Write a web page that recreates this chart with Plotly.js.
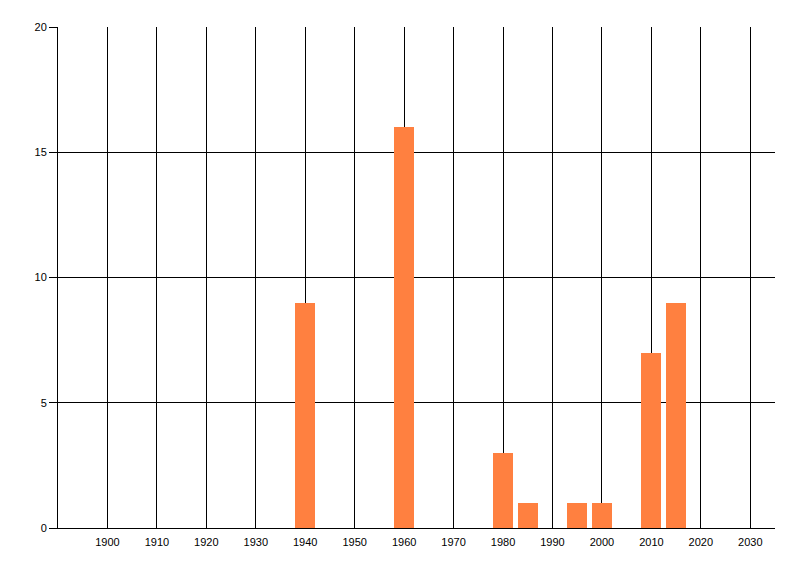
<!DOCTYPE html>
<html>
<head>
<meta charset="utf-8">
<script src="https://cdn.plot.ly/plotly-3.0.1.min.js"></script>
<style>html,body{margin:0;padding:0;background:#fff;}#chart{width:800px;height:576px;}</style>
</head>
<body>
<div id="chart"></div>
<script>
const years = [1940, 1960, 1980, 1985, 1995, 2000, 2010, 2015];
const counts = [9, 16, 3, 1, 1, 1, 7, 9];
const xTickVals = [1900, 1910, 1920, 1930, 1940, 1950, 1960, 1970, 1980, 1990, 2000, 2010, 2020, 2030];
const yTickVals = [0, 5, 10, 15, 20];

const trace = {
  type: 'bar',
  x: years,
  y: counts,
  width: 4,
  marker: {color: '#FF8040', line: {width: 0}},
  hoverinfo: 'x+y'
};

const layout = {
  width: 800, height: 576,
  margin: {l: 58, r: 25, t: 27, b: 48, pad: 0},
  paper_bgcolor: '#fff', plot_bgcolor: '#fff',
  showlegend: false,
  font: {family: 'Liberation Sans, Arial, sans-serif', size: 11, color: '#000'},
  xaxis: {
    range: [1890, 2035],
    tickvals: xTickVals,
    ticktext: xTickVals.map(String),
    showgrid: true, gridcolor: '#000', gridwidth: 1,
    showline: true, linecolor: '#000', linewidth: 1,
    ticks: '', zeroline: false,
    ticklabelstandoff: 4,
    fixedrange: true
  },
  yaxis: {
    range: [0, 20],
    tickvals: yTickVals,
    ticktext: yTickVals.map(String),
    showgrid: true, gridcolor: '#000', gridwidth: 1,
    showline: true, linecolor: '#000', linewidth: 1,
    ticks: 'outside', ticklen: 8, tickcolor: '#000', tickwidth: 1,
    zeroline: false,
    fixedrange: true
  },
  bargap: 0
};

Plotly.newPlot('chart', [trace], layout, {displayModeBar: false, staticPlot: true});
</script>
</body>
</html>
